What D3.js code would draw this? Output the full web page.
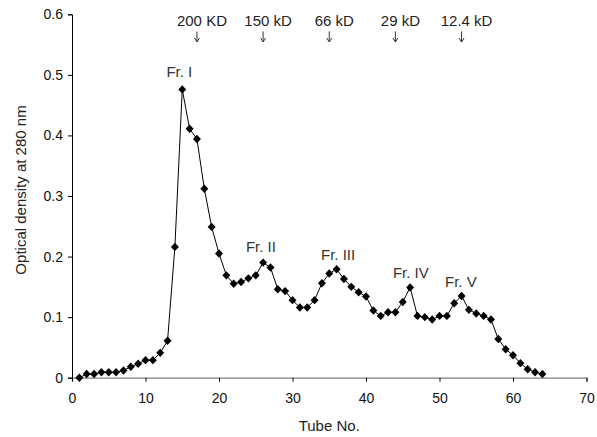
<!DOCTYPE html>
<html>
<head>
<meta charset="utf-8">
<script src="https://cdn.jsdelivr.net/npm/d3@7"></script>
<style>
  body { margin: 0; background: #fff; }
  text { font-family: "Liberation Sans", Arial, sans-serif; }
</style>
</head>
<body>
<div id="grafico"></div>
<script>
const tubos = d3.range(1, 65);
const densidad = [
  0.000, 0.006, 0.006, 0.009, 0.009, 0.009, 0.012, 0.018, 0.023, 0.029,
  0.029, 0.041, 0.061, 0.216, 0.476, 0.411, 0.394, 0.312, 0.249, 0.205,
  0.169, 0.155, 0.158, 0.164, 0.169, 0.190, 0.182, 0.146, 0.143, 0.128,
  0.116, 0.116, 0.128, 0.156, 0.172, 0.179, 0.163, 0.150, 0.141, 0.134,
  0.111, 0.102, 0.108, 0.108, 0.125, 0.149, 0.102, 0.100, 0.096, 0.102,
  0.102, 0.123, 0.135, 0.112, 0.106, 0.102, 0.096, 0.064, 0.047, 0.037,
  0.024, 0.014, 0.009, 0.006
];

const xTicks = [0, 10, 20, 30, 40, 50, 60, 70];
const yTicks = [0, 0.1, 0.2, 0.3, 0.4, 0.5, 0.6];

// marcadores de peso molecular (tubo donde cae la flecha)
const marcadores = ['200 KD', '150 kD', '66 kD', '29 kD', '12.4 kD'];
const marcadorTubo = [17, 26, 35, 44, 53];

// etiquetas de fracciones
const fracciones = ['Fr. I', 'Fr. II', 'Fr. III', 'Fr. IV', 'Fr. V'];
const fraccionTubo = [14.6, 25.7, 36.2, 46.1, 52.9];
const fraccionValor = [0.496, 0.207, 0.195, 0.164, 0.150];

const width = 597, height = 437;
const margin = { left: 72, right: 10.5, top: 14.3, bottom: 59.3 };

const svg = d3.select('#grafico')
  .append('svg')
  .attr('width', width)
  .attr('height', height);

const x = d3.scaleLinear().domain([0, 70]).range([margin.left, width - margin.right]);
const y = d3.scaleLinear().domain([0, 0.6]).range([height - margin.bottom, margin.top]);

// eje x
const ejeX = svg.append('g')
  .attr('transform', `translate(0,${y(0)})`)
  .call(d3.axisBottom(x).tickValues(xTicks).tickFormat(d3.format('d')).tickSize(4).tickPadding(11));
ejeX.select('.domain').attr('stroke', '#808080').attr('stroke-width', 1.3);
ejeX.selectAll('.tick line').attr('stroke', '#000');
ejeX.selectAll('text').style('font-size', '14px').attr('fill', '#111');

// eje y
const ejeY = svg.append('g')
  .attr('transform', `translate(${x(0)},0)`)
  .call(d3.axisLeft(y).tickValues(yTicks).tickFormat(d => d === 0 ? '0' : d3.format('.1f')(d)).tickSize(4).tickPadding(5));
ejeY.select('.domain').attr('stroke', '#000');
ejeY.selectAll('text').style('font-size', '14px').attr('fill', '#111');

svg.append('text')
  .attr('transform', `translate(26,${(y(0) + y(0.6)) / 2 - 6}) rotate(-90)`)
  .attr('text-anchor', 'middle')
  .style('font-size', '15px')
  .attr('fill', '#222')
  .text('Optical density at 280 nm');

svg.append('text')
  .attr('x', (x(0) + x(70)) / 2)
  .attr('y', 431)
  .attr('text-anchor', 'middle')
  .style('font-size', '15px')
  .attr('fill', '#222')
  .text('Tube No.');

const datos = tubos.map((t, i) => ({ t, v: densidad[i] }));

svg.append('path')
  .datum(datos)
  .attr('fill', 'none')
  .attr('stroke', '#000')
  .attr('stroke-width', 1)
  .attr('d', d3.line().x(d => x(d.t)).y(d => y(d.v)));

svg.append('g')
  .selectAll('path')
  .data(datos)
  .join('path')
  .attr('transform', d => `translate(${x(d.t)},${y(d.v)})`)
  .attr('d', 'M0,-4.2L4,0L0,4.2L-4,0Z')
  .attr('fill', '#000');

// flechas de peso molecular
const marca = svg.append('g')
  .selectAll('g')
  .data(marcadores.map((m, i) => ({ m, t: marcadorTubo[i] })))
  .join('g')
  .attr('transform', d => `translate(${x(d.t)},0)`);

marca.append('text')
  .attr('x', 5)
  .attr('y', 25.7)
  .attr('text-anchor', 'middle')
  .style('font-size', '15px')
  .attr('fill', '#222')
  .text(d => d.m);

marca.append('path')
  .attr('d', 'M0,31.5V42M-2.5,38L0,42L2.5,38')
  .attr('fill', 'none')
  .attr('stroke', '#333')
  .attr('stroke-width', 1);

svg.append('g')
  .selectAll('text')
  .data(fracciones.map((f, i) => ({ f, t: fraccionTubo[i], v: fraccionValor[i] })))
  .join('text')
  .attr('x', d => x(d.t))
  .attr('y', d => y(d.v))
  .attr('text-anchor', 'middle')
  .style('font-size', '15px')
  .attr('fill', '#333')
  .text(d => d.f);
</script>
</body>
</html>
